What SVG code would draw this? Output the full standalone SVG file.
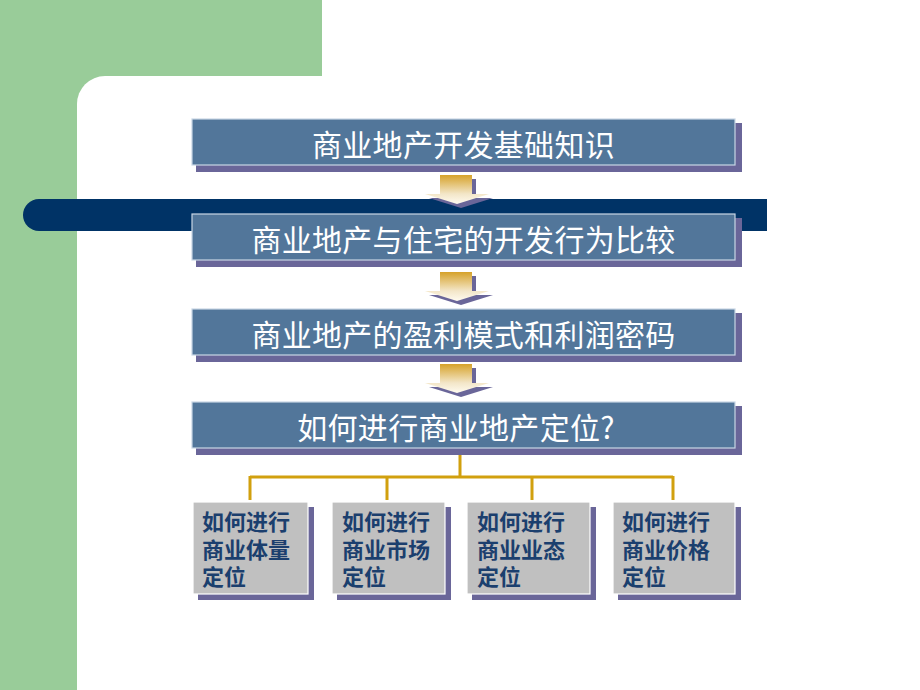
<svg xmlns="http://www.w3.org/2000/svg" width="920" height="690" viewBox="0 0 920 690">
<style>
.main{fill:#52769A;stroke:#C8D6E4;stroke-width:1.2}
.shadow{fill:#6A6699}
.mtxt{font-family:"Noto Sans CJK SC","Liberation Sans",sans-serif;font-size:30px;font-weight:normal;fill:#FFFFFF;text-anchor:middle;letter-spacing:0.3px}
.sbox{fill:#C0C0C0;stroke:#FFFFFF;stroke-width:1.2}
.stxt{font-family:"Noto Sans CJK SC","Liberation Sans",sans-serif;font-size:22px;font-weight:bold;fill:#1B3F6E}
.conn{fill:none;stroke:#D1A00E;stroke-width:3}
</style>
<defs>
<linearGradient id="ag" x1="0" y1="0" x2="0" y2="1">
<stop offset="0" stop-color="#D6A22A"/>
<stop offset="0.65" stop-color="#F3E6C8"/>
<stop offset="1" stop-color="#FFFBF0"/>
</linearGradient>
<g id="arrow">
<path d="M444,4 H476 V23 H493 L461,33 L429,23 H444 Z" fill="#6A6699"/>
<path d="M440,0 H472 V19 H489 L457,29 L425,19 H440 Z" fill="url(#ag)"/>
</g>
</defs>
<rect x="0" y="0" width="920" height="690" fill="#FFFFFF"/>
<g id="background">
<rect x="0" y="0" width="322" height="130" fill="#99CC99"/>
<rect x="0" y="0" width="77" height="690" fill="#99CC99"/>
<rect x="77" y="76" width="900" height="700" rx="28" ry="28" fill="#FFFFFF"/>
<rect x="23" y="199" width="744" height="32" rx="16" ry="16" fill="#003366"/>
<rect x="500" y="199" width="267" height="32" fill="#003366"/>
</g>
<g id="connectors">
<use href="#arrow" transform="translate(0,175)"/>
<use href="#arrow" transform="translate(0,272)"/>
<use href="#arrow" transform="translate(0,364)"/>
<path class="conn" d="M460,455 V477 M250,477 H673 M250,476 V500 M387,476 V500 M532,476 V500 M673,476 V500"/>
</g>
<g id="node1">
<rect class="shadow" x="196" y="123" width="546" height="49"/>
<rect class="main" x="192" y="119" width="543" height="46"/>
<text class="mtxt" x="463.5" y="156">商业地产开发基础知识</text>
</g>
<g id="node2">
<rect class="shadow" x="196" y="218" width="546" height="49"/>
<rect class="main" x="192" y="214" width="543" height="46"/>
<text class="mtxt" x="463.5" y="251">商业地产与住宅的开发行为比较</text>
</g>
<g id="node3">
<rect class="shadow" x="196" y="313" width="546" height="49"/>
<rect class="main" x="192" y="309" width="543" height="46"/>
<text class="mtxt" x="463.5" y="346">商业地产的盈利模式和利润密码</text>
</g>
<g id="node4">
<rect class="shadow" x="196" y="406" width="546" height="49"/>
<rect class="main" x="192" y="402" width="543" height="46"/>
<text class="mtxt" x="456" y="439">如何进行商业地产定位?</text>
</g>
<g id="sub1">
<rect class="shadow" x="198" y="507" width="116" height="93"/>
<rect class="sbox" x="193" y="502" width="115" height="92"/>
<text class="stxt" x="202" y="530">如何进行<tspan x="202" y="557.5">商业体量</tspan><tspan x="202" y="585">定位</tspan></text>
</g>
<g id="sub2">
<rect class="shadow" x="337" y="507" width="114" height="93"/>
<rect class="sbox" x="332" y="502" width="113" height="92"/>
<text class="stxt" x="342" y="530">如何进行<tspan x="342" y="557.5">商业市场</tspan><tspan x="342" y="585">定位</tspan></text>
</g>
<g id="sub3">
<rect class="shadow" x="472" y="507" width="124" height="93"/>
<rect class="sbox" x="467" y="502" width="123" height="92"/>
<text class="stxt" x="477" y="530">如何进行<tspan x="477" y="557.5">商业业态</tspan><tspan x="477" y="585">定位</tspan></text>
</g>
<g id="sub4">
<rect class="shadow" x="618" y="507" width="123" height="93"/>
<rect class="sbox" x="613" y="502" width="122" height="92"/>
<text class="stxt" x="622" y="530">如何进行<tspan x="622" y="557.5">商业价格</tspan><tspan x="622" y="585">定位</tspan></text>
</g>
</svg>
